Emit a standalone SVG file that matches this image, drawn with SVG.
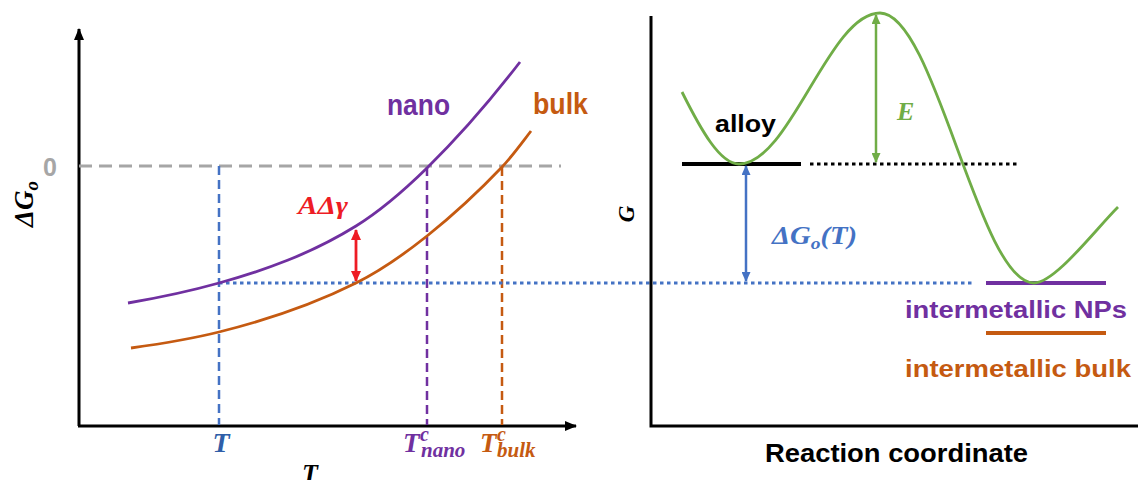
<svg xmlns="http://www.w3.org/2000/svg" width="1138" height="480" viewBox="0 0 1138 480">
<style>
.sans{font-family:"Liberation Sans",Arial,sans-serif;font-weight:bold}
.math{font-family:"Liberation Serif","Times New Roman",serif;font-weight:bold;font-style:italic}
.axis{stroke:#000;stroke-width:3;fill:none}
.curve{fill:none;stroke-width:2.8}
.vdash{fill:none;stroke-width:2.5;stroke-dasharray:9 5}
.dot{fill:none;stroke-width:3;stroke-dasharray:3.5 3.5}
</style>
<defs>
<marker id="axArrow" viewBox="0 0 12 10" refX="11" refY="5" markerWidth="12" markerHeight="10" markerUnits="userSpaceOnUse" orient="auto"><path d="M0,0 L12,5 L0,10 Z" fill="#000"/></marker>
<marker id="redHead" viewBox="0 0 11 10" refX="10" refY="5" markerWidth="11" markerHeight="10" markerUnits="userSpaceOnUse" orient="auto-start-reverse"><path d="M0,0 L11,5 L0,10 Z" fill="#EE1C25"/></marker>
<marker id="blueHead" viewBox="0 0 10 9" refX="9" refY="4.5" markerWidth="10" markerHeight="9" markerUnits="userSpaceOnUse" orient="auto-start-reverse"><path d="M0,0 L10,4.5 L0,9 Z" fill="#4472C4"/></marker>
<marker id="greenHead" viewBox="0 0 10 9" refX="9" refY="4.5" markerWidth="10" markerHeight="9" markerUnits="userSpaceOnUse" orient="auto-start-reverse"><path d="M0,0 L10,4.5 L0,9 Z" fill="#70AD47"/></marker>
</defs>
<rect width="1138" height="480" fill="#fff"/>

<!-- Left panel -->
<g id="left-axes">
<line class="axis" x1="79" y1="426" x2="79" y2="29" marker-end="url(#axArrow)"/>
<line class="axis" x1="78" y1="426" x2="576" y2="426" marker-end="url(#axArrow)"/>
<text class="math" font-size="27" transform="translate(33,204) rotate(-90)" text-anchor="middle">ΔG<tspan font-size="19" dy="5">o</tspan></text>
<text class="math" font-size="26" x="310" y="482" text-anchor="middle">T</text>
</g>

<g id="connectors">
<line x1="79" y1="166" x2="561" y2="166" fill="none" stroke="#A6A6A6" stroke-width="3" stroke-dasharray="13 7"/>
<line class="vdash" x1="219" y1="166" x2="219" y2="425" stroke="#4472C4"/>
<line class="vdash" x1="427" y1="167" x2="427" y2="425" stroke="#7030A0"/>
<line class="vdash" x1="502" y1="167" x2="502" y2="425" stroke="#C55A11"/>
<line class="dot" x1="219" y1="283" x2="975" y2="283" stroke="#4472C4"/>
<line x1="356" y1="230" x2="356" y2="281" stroke="#EE1C25" stroke-width="2.8" marker-start="url(#redHead)" marker-end="url(#redHead)"/>
<line x1="682" y1="164" x2="801" y2="164" stroke="#000" stroke-width="4"/>
<line class="dot" x1="810" y1="164" x2="1019" y2="164" stroke="#000"/>
<line x1="746" y1="166" x2="746" y2="281" stroke="#4472C4" stroke-width="2.5" marker-start="url(#blueHead)" marker-end="url(#blueHead)"/>
<line x1="876" y1="15" x2="876" y2="162" stroke="#70AD47" stroke-width="2.5" marker-start="url(#greenHead)" marker-end="url(#greenHead)"/>
<line x1="986" y1="283" x2="1106" y2="283" stroke="#7030A0" stroke-width="4"/>
<line x1="986" y1="333" x2="1106" y2="333" stroke="#C55A11" stroke-width="4"/>
</g>

<g id="nano-curve">
<path class="curve" stroke="#7030A0" d="M128,303 C158.3,297.8 188.7,291.5 219,283 C264.7,270.2 310.3,254.3 356,226 C379.7,211.3 403.3,191.2 427,168 C458,137.6 489,102.3 520,62"/>
<text class="sans" font-size="29" x="387" y="115" fill="#7030A0" textLength="63" lengthAdjust="spacingAndGlyphs">nano</text>
</g>

<g id="bulk-curve">
<path class="curve" stroke="#C55A11" d="M131,348 C160.3,343.9 189.7,339.3 219,332 C264.7,320.6 310.3,305.8 356,283 C379.7,271.2 403.3,254.9 427,236 C452,216 477,193.3 502,167 C511.7,156.9 521.3,143.6 531,131"/>
<text class="sans" font-size="29" x="533" y="114" fill="#C55A11" textLength="55" lengthAdjust="spacingAndGlyphs">bulk</text>
</g>

<g id="left-labels">
<text class="sans" font-size="25" x="50" y="176" text-anchor="middle" fill="#A6A6A6">0</text>
<text class="math" font-size="25" x="298" y="214" fill="#EE1C25" textLength="50" lengthAdjust="spacingAndGlyphs">AΔγ</text>
<text class="math" font-size="28" x="221" y="452" text-anchor="middle" fill="#2F5EA8">T</text>
<text class="math" font-size="27" x="403" y="452" fill="#7030A0">T<tspan font-size="20" x="420" y="441">c</tspan><tspan font-size="21" x="421" y="457">nano</tspan></text>
<text class="math" font-size="27" x="480" y="452" fill="#C55A11">T<tspan font-size="20" x="497" y="441">c</tspan><tspan font-size="21" x="497" y="457">bulk</tspan></text>
</g>

<!-- Right panel -->
<g id="right-axes">
<polyline class="axis" points="651,16 651,426 1138,426"/>
<text class="math" font-size="23" transform="translate(634,214) rotate(-90)" text-anchor="middle">G</text>
<text class="sans" font-size="25" x="765" y="462" textLength="263" lengthAdjust="spacingAndGlyphs">Reaction coordinate</text>
</g>

<g id="energy-curve">
<path class="curve" stroke="#70AD47" stroke-width="3" d="M682,92 C701,130 720,164 739,164 C790,164 829,13 880,13 C935,13 979,283 1034,283 C1055,283 1095,230 1118,207"/>
</g>

<g id="alloy">
<text class="sans" font-size="23" x="715" y="132" textLength="61" lengthAdjust="spacingAndGlyphs">alloy</text>
</g>
<g id="E-label">
<text class="math" font-size="26" x="897" y="120" fill="#70AD47">E</text>
</g>
<g id="dG-label">
<text class="math" font-size="25" x="772" y="244" fill="#4472C4" textLength="85" lengthAdjust="spacingAndGlyphs">ΔG<tspan font-size="17" dy="5">o</tspan><tspan dy="-5">(T)</tspan></text>
</g>
<g id="intermetallic-NPs">
<text class="sans" font-size="24" x="905" y="318" fill="#7030A0" textLength="222" lengthAdjust="spacingAndGlyphs">intermetallic NPs</text>
</g>
<g id="intermetallic-bulk">
<text class="sans" font-size="24" x="905" y="377" fill="#C55A11" textLength="226" lengthAdjust="spacingAndGlyphs">intermetallic bulk</text>
</g>
</svg>
